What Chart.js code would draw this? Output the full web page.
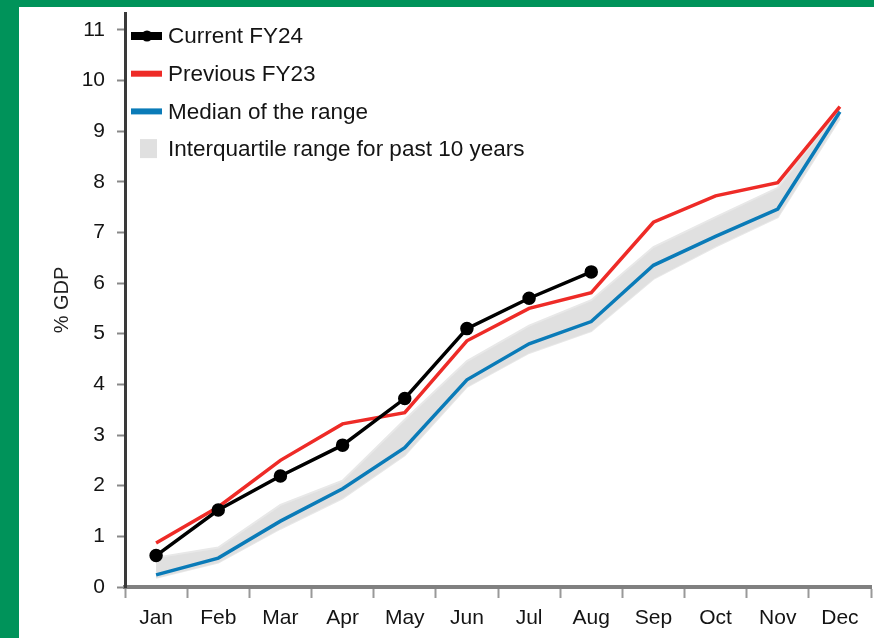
<!DOCTYPE html>
<html>
<head>
<meta charset="utf-8">
<script src="https://cdn.jsdelivr.net/npm/chart.js@4.4.1/dist/chart.umd.min.js"></script>
<style>
  html, body { margin: 0; padding: 0; width: 874px; height: 638px; overflow: hidden; background: #00935a; }
  #wrap { position: absolute; left: 19px; top: 7px; width: 855px; height: 631px; background: #fff; }
</style>
</head>
<body>
<div id="wrap"><canvas id="chart" width="855" height="631"></canvas></div>
<script>
// data (% of GDP, cumulative)
const months = ['Jan', 'Feb', 'Mar', 'Apr', 'May', 'Jun', 'Jul', 'Aug', 'Sep', 'Oct', 'Nov', 'Dec'];
const currentFY24 = [0.62, 1.52, 2.19, 2.8, 3.72, 5.1, 5.7, 6.22];
const previousFY23 = [0.87, 1.58, 2.5, 3.22, 3.44, 4.86, 5.5, 5.81, 7.2, 7.72, 7.98, 9.48];
const medianRange = [0.24, 0.57, 1.3, 1.94, 2.75, 4.09, 4.8, 5.24, 6.35, 6.92, 7.46, 9.38];
const iqrUpper = [0.58, 0.78, 1.62, 2.1, 3.3, 4.46, 5.16, 5.66, 6.71, 7.3, 7.88, 9.45];
const iqrLower = [0.18, 0.48, 1.15, 1.75, 2.6, 3.95, 4.62, 5.05, 6.08, 6.72, 7.3, 9.25];
const yTicks = [0, 1, 2, 3, 4, 5, 6, 7, 8, 9, 10, 11];

const FONT = '"Liberation Sans", Arial, sans-serif';
const TEXT = '#141414';

// legend drawn inside the plot, top left
const insideLegend = {
    id: 'insideLegend',
    afterDraw(chart) {
        const ctx = chart.ctx;
        const x0 = chart.chartArea.left + 6;
        const rows = chart.data.datasets.filter(d => d.legendKind);
        ctx.save();
        ctx.font = '22.5px ' + FONT;
        ctx.textBaseline = 'middle';
        ctx.fillStyle = TEXT;
        rows.forEach((d, i) => {
            const y = 29 + i * 37.7;
            if (d.legendKind === 'box') {
                ctx.fillStyle = '#e0e0e0';
                ctx.fillRect(x0 + 9, y - 10, 17, 19);
            } else {
                ctx.strokeStyle = d.borderColor;
                ctx.lineWidth = d.legendKind === 'marker' ? 8 : 6;
                ctx.beginPath();
                ctx.moveTo(x0, y);
                ctx.lineTo(x0 + 31, y);
                ctx.stroke();
                if (d.legendKind === 'marker') {
                    ctx.fillStyle = d.borderColor;
                    ctx.beginPath();
                    ctx.arc(x0 + 16, y, 5.5, 0, Math.PI * 2);
                    ctx.fill();
                }
            }
            ctx.fillStyle = TEXT;
            ctx.fillText(d.label, x0 + 37, y + 1);
        });
        ctx.restore();
    }
};

// keep the plot box where the picture has it
function pinPadding(scale) {
    scale.paddingTop = 0;
    scale.paddingBottom = 0;
    scale.paddingLeft = 0;
    scale.paddingRight = 0;
}

const ctx = document.getElementById('chart').getContext('2d');
const chart = new Chart(ctx, {
    type: 'line',
    data: {
        labels: months,
        datasets: [
            {
                label: 'Current FY24',
                legendKind: 'marker',
                data: currentFY24,
                borderColor: '#000000',
                backgroundColor: '#000000',
                borderWidth: 3.5,
                pointRadius: 5,
                pointHoverRadius: 5,
                fill: false
            },
            {
                label: 'Previous FY23',
                legendKind: 'line',
                data: previousFY23,
                borderColor: '#ee2b27',
                borderWidth: 3.5,
                pointRadius: 0,
                fill: false
            },
            {
                label: 'Median of the range',
                legendKind: 'line',
                data: medianRange,
                borderColor: '#0a7bb8',
                borderWidth: 3.5,
                pointRadius: 0,
                fill: false
            },
            {
                label: 'Interquartile range for past 10 years',
                legendKind: 'box',
                data: iqrUpper,
                borderColor: '#e8e8e8',
                backgroundColor: '#e0e0e0',
                borderWidth: 2,
                pointRadius: 0,
                fill: '+1'
            },
            {
                label: 'iqr lower',
                data: iqrLower,
                borderColor: '#e8e8e8',
                borderWidth: 2,
                pointRadius: 0,
                fill: false
            }
        ]
    },
    options: {
        responsive: false,
        devicePixelRatio: 1,
        animation: false,
        layout: { autoPadding: false, padding: { left: 0, top: 6, right: 3, bottom: 0 } },
        plugins: {
            legend: { display: false },
            tooltip: { enabled: false }
        },
        scales: {
            x: {
                type: 'category',
                offset: true,
                grid: {
                    offset: true,
                    drawOnChartArea: false,
                    tickLength: 11,
                    tickWidth: 2,
                    tickColor: '#999999'
                },
                border: { display: true, color: '#808080', width: 4 },
                ticks: {
                    autoSkip: false,
                    maxRotation: 0,
                    padding: 8,
                    color: TEXT,
                    font: { family: FONT, size: 21 }
                },
                afterFit: scale => { scale.height = 51; pinPadding(scale); }
            },
            y: {
                min: 0,
                max: 11.33,
                grid: {
                    drawOnChartArea: false,
                    tickLength: 8,
                    tickWidth: 2,
                    tickColor: '#888888'
                },
                border: { display: true, color: '#3a3a3a', width: 3 },
                afterBuildTicks: scale => { scale.ticks = yTicks.map(v => ({ value: v })); },
                ticks: {
                    padding: 12,
                    color: TEXT,
                    font: { family: FONT, size: 21 }
                },
                title: {
                    display: true,
                    text: '% GDP',
                    color: '#222222',
                    font: { family: FONT, size: 20 },
                    padding: { top: 31, bottom: 0 }
                },
                afterFit: scale => { scale.width = 106; pinPadding(scale); }
            }
        }
    },
    plugins: [insideLegend]
});
</script>
</body>
</html>
